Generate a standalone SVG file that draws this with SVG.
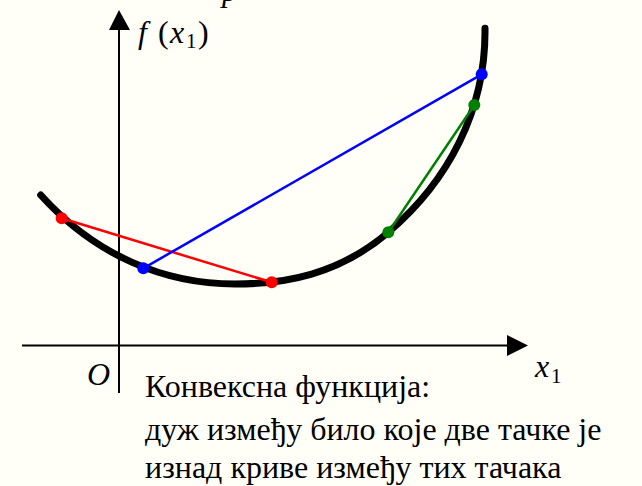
<svg xmlns="http://www.w3.org/2000/svg" width="642" height="486" viewBox="0 0 642 486">
  <rect width="642" height="486" fill="#FFFFF8"/>

  <g id="axes" stroke="#000" stroke-width="2" fill="none">
    <line x1="119" y1="28" x2="119" y2="393"/>
    <polygon points="119,10 109,30 130,30" fill="#000" stroke="none"/>
    <line x1="22" y1="345.5" x2="510" y2="345.5"/>
    <polygon points="528,345.5 507,335 507,356" fill="#000" stroke="none"/>
  </g>

  <g id="curve">
    <path d="M40.7,195 C95.7,256 165,284 235,284 C285,284 338.3,274.8 388.3,232.3 C448.3,181.3 486,110 485,28.3" stroke="#000" stroke-width="7" fill="none" stroke-linecap="round"/>
  </g>

  <g id="connectors" stroke-width="2.5" fill="none">
    <line stroke="#FF0000" x1="61.7" y1="218.3" x2="271.7" y2="282.3"/>
    <line stroke="#0000FF" x1="143.3" y1="268.3" x2="481.7" y2="74.3"/>
    <line stroke="#008000" x1="388.3" y1="232.3" x2="474.3" y2="105"/>
  </g>

  <g id="points">
    <circle cx="61.7" cy="218.3" r="6" fill="#FF0000"/>
    <circle cx="271.7" cy="282.3" r="6" fill="#FF0000"/>
    <circle cx="143.3" cy="268.3" r="6" fill="#0000FF"/>
    <circle cx="481.7" cy="74.3" r="6" fill="#0000FF"/>
    <circle cx="388.3" cy="232.3" r="6" fill="#008000"/>
    <circle cx="474.3" cy="105" r="6" fill="#008000"/>
  </g>

  <text x="222" y="1" font-family="Times New Roman" font-size="32" font-style="italic" style="font-family: 'Liberation Serif', 'Times New Roman', serif">p</text>
  <text x="138" y="43" font-family="Times New Roman" font-size="32" font-style="italic" style="font-family: 'Liberation Serif', 'Times New Roman', serif">f</text>
  <text x="158" y="43" font-family="Times New Roman" font-size="32" style="font-family: 'Liberation Serif', 'Times New Roman', serif">(</text>
  <text x="170" y="43" font-family="Times New Roman" font-size="32" font-style="italic" style="font-family: 'Liberation Serif', 'Times New Roman', serif">x</text>
  <text x="186" y="48" font-family="Times New Roman" font-size="21" style="font-family: 'Liberation Serif', 'Times New Roman', serif">1</text>
  <text x="198" y="43" font-family="Times New Roman" font-size="32" style="font-family: 'Liberation Serif', 'Times New Roman', serif">)</text>
  <text x="87" y="385" font-family="Times New Roman" font-size="32" font-style="italic" style="font-family: 'Liberation Serif', 'Times New Roman', serif">O</text>
  <text x="535" y="377" font-family="Times New Roman" font-size="32" font-style="italic" style="font-family: 'Liberation Serif', 'Times New Roman', serif">x</text>
  <text x="551" y="383" font-family="Times New Roman" font-size="21" style="font-family: 'Liberation Serif', 'Times New Roman', serif">1</text>

  <g id="caption">
    <text x="145" y="397" font-family="Times New Roman" font-size="32" style="font-family: 'Liberation Serif', 'Times New Roman', serif">Конвексна функција:</text>
    <text x="145" y="440" font-family="Times New Roman" font-size="32" style="font-family: 'Liberation Serif', 'Times New Roman', serif">дуж између било које две тачке је</text>
    <text x="145" y="478" font-family="Times New Roman" font-size="32" style="font-family: 'Liberation Serif', 'Times New Roman', serif">изнад криве између тих тачака</text>
  </g>
</svg>
